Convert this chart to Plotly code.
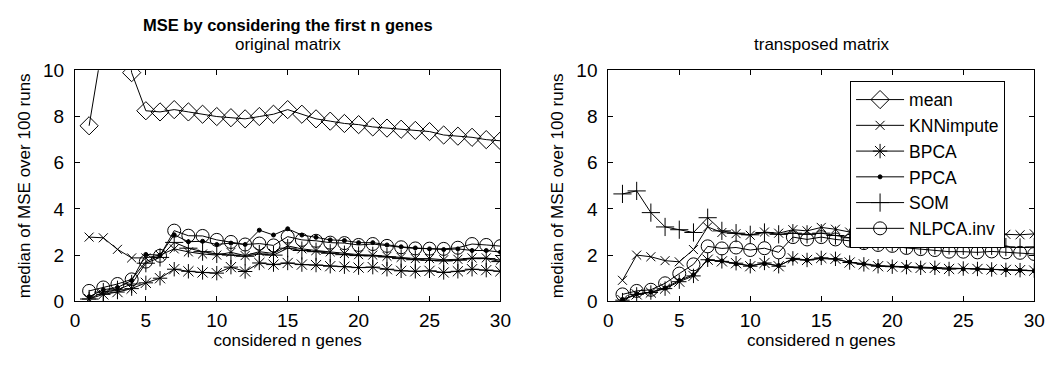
import plotly.graph_objects as go

n = list(range(1, 31))

# ---- left: original matrix ----
L_mean = [7.6, 11.6, 15.0, 9.9, 8.25, 8.2, 8.3, 8.2, 8.1, 8.0, 7.95, 7.9, 8.0, 8.1, 8.3,
          8.1, 7.9, 7.8, 7.7, 7.65, 7.55, 7.5, 7.45, 7.4, 7.35, 7.2, 7.15, 7.1, 7.0, 6.95]
L_knn = [2.78, 2.75, 2.25, 1.88, 1.88, 2.0, 2.27, 2.14, 2.05, 2.0, 2.12, 1.98, 2.15, 2.07, 2.4,
         2.27, 2.2, 2.14, 2.07, 2.02, 2.0, 1.95, 1.9, 1.85, 1.85, 1.8, 1.82, 1.88, 1.88, 1.78]
L_bpca = [0.1, 0.3, 0.4, 0.55, 0.8, 1.0, 1.39, 1.3, 1.25, 1.22, 1.48, 1.29, 1.66, 1.59, 1.66,
          1.59, 1.57, 1.52, 1.5, 1.46, 1.48, 1.39, 1.32, 1.3, 1.32, 1.25, 1.3, 1.39, 1.35, 1.3]
L_ppca = [0.2, 0.5, 0.6, 0.9, 2.03, 2.0, 2.88, 2.58, 2.6, 2.46, 2.52, 2.46, 3.08, 2.87, 3.14,
          2.87, 2.77, 2.66, 2.63, 2.54, 2.54, 2.44, 2.36, 2.31, 2.27, 2.24, 2.27, 2.2, 2.2, 2.13]
L_som = [0.1, 0.4, 0.5, 0.75, 1.65, 1.9, 2.55, 2.3, 2.15, 2.05, 2.0, 1.95, 2.05, 2.0, 2.3,
         2.2, 2.15, 2.08, 2.02, 1.98, 1.97, 1.92, 1.85, 1.8, 1.78, 1.75, 1.78, 1.85, 1.85, 1.72]
L_nlpca = [0.45, 0.6, 0.75, 0.95, 1.72, 1.97, 3.06, 2.84, 2.83, 2.66, 2.57, 2.46, 2.5, 2.42, 2.8,
           2.66, 2.62, 2.54, 2.52, 2.44, 2.48, 2.4, 2.34, 2.29, 2.28, 2.27, 2.32, 2.48, 2.44, 2.39]

# ---- right: transposed matrix ----
R_mean = [12.5, 12.8, 13.0, 12.9, 12.7, 12.6, 12.8, 12.7, 12.6, 12.5, 12.5, 12.4, 12.5, 12.4, 12.5,
          12.4, 12.3, 12.3, 12.2, 12.2, 12.1, 12.1, 12.0, 12.0, 11.9, 11.9, 11.8, 11.8, 11.7, 11.7]
R_knn = [0.91, 2.0, 1.93, 1.76, 1.71, 2.24, 3.22, 2.98, 2.93, 2.86, 3.0, 2.95, 3.1, 3.05, 3.2,
         3.12, 3.0, 2.95, 2.9, 2.92, 2.92, 3.0, 2.9, 2.9, 2.85, 2.85, 2.9, 2.9, 2.88, 2.92]
R_bpca = [0.05, 0.3, 0.38, 0.55, 0.85, 1.1, 1.8, 1.73, 1.65, 1.52, 1.66, 1.52, 1.86, 1.79, 1.88,
          1.84, 1.68, 1.6, 1.52, 1.5, 1.48, 1.45, 1.45, 1.4, 1.42, 1.4, 1.38, 1.36, 1.35, 1.33]
R_ppca = [0.08, 0.32, 0.4, 0.58, 0.9, 1.15, 1.78, 1.75, 1.62, 1.55, 1.63, 1.55, 1.82, 1.78, 1.85,
          1.82, 1.7, 1.62, 1.55, 1.52, 1.5, 1.47, 1.44, 1.42, 1.4, 1.4, 1.37, 1.36, 1.34, 1.32]
R_som = [4.65, 4.78, 3.84, 3.22, 3.1, 2.98, 3.62, 3.05, 2.95, 2.88, 2.98, 2.9, 2.95, 2.9, 2.95,
         2.85, 2.75, 2.65, 2.6, 2.55, 2.45, 2.42, 2.42, 2.42, 2.4, 2.38, 2.4, 2.35, 2.33, 2.35]
R_nlpca = [0.3, 0.45, 0.5, 0.78, 1.2, 1.6, 2.38, 2.29, 2.33, 2.22, 2.3, 2.12, 2.78, 2.68, 2.78,
           2.68, 2.62, 2.52, 2.44, 2.4, 2.31, 2.26, 2.22, 2.15, 2.15, 2.12, 2.16, 2.12, 2.1, 2.05]

names = ["mean", "KNNimpute", "BPCA", "PPCA", "SOM", "NLPCA.inv"]
symbols = ["diamond-open", "x-thin-open", "asterisk-open", "circle", "cross-thin-open", "circle-open"]
sizes = [14, 9, 12, 4, 13, 13]
left_series = [L_mean, L_knn, L_bpca, L_ppca, L_som, L_nlpca]
right_series = [R_mean, R_knn, R_bpca, R_ppca, R_som, R_nlpca]

x_ticks = [0, 5, 10, 15, 20, 25, 30]
y_ticks = [0, 2, 4, 6, 8, 10]

W, H = 1062, 367
fig = go.Figure()

def add(series, xa, ya, show):
    for nm, sym, sz, ys in zip(names, symbols, sizes, series):
        fig.add_trace(go.Scatter(
            x=n, y=ys, name=nm, mode="lines+markers", xaxis=xa, yaxis=ya,
            showlegend=show, cliponaxis=True,
            line=dict(color="black", width=1),
            marker=dict(symbol=sym, size=sz, color="black",
                        line=dict(color="black", width=1)),
        ))

add(left_series, "x", "y", False)
add(right_series, "x2", "y2", True)

font = "Liberation Sans, Arial, Helvetica, sans-serif"
ydom = [1 - 309 / H, 1 - 64 / H]
axcommon = dict(showline=True, linecolor="black", linewidth=1, mirror="ticks",
                ticks="inside", ticklen=5, tickcolor="black", showgrid=False,
                zeroline=False, tickfont=dict(size=19, color="black", family=font))
xt = dict(text="considered n genes", font=dict(size=17), standoff=2)
yt = dict(text="median of MSE over 100 runs", font=dict(size=17), standoff=8)
fig.update_layout(
    width=W, height=H, plot_bgcolor="white", paper_bgcolor="white",
    margin=dict(l=0, r=0, t=0, b=0),
    font=dict(family=font, color="black"),
    xaxis=dict(domain=[71 / W, 503 / W], range=[0, 30], tickvals=x_ticks, anchor="y",
               title=xt, ticklabelstandoff=2, **axcommon),
    yaxis=dict(domain=ydom, range=[0, 10], tickvals=y_ticks, anchor="x",
               title=yt, ticklabelstandoff=6, **axcommon),
    xaxis2=dict(domain=[612.5 / W, 1045 / W], range=[0, 30], tickvals=x_ticks, anchor="y2",
                title=xt, ticklabelstandoff=2, **axcommon),
    yaxis2=dict(domain=ydom, range=[0, 10], tickvals=y_ticks, anchor="x2",
                title=yt, ticklabelstandoff=6, **axcommon),
    legend=dict(x=858 / W, y=1 - 75 / H, xanchor="left", yanchor="top",
                bordercolor="black", borderwidth=1, bgcolor="white",
                font=dict(size=17.5, color="black"), tracegroupgap=0, itemwidth=48),
    annotations=[
        dict(text="<b>MSE by considering the first n genes</b>", x=287 / W, y=1 - 16 / H,
             xref="paper", yref="paper", xanchor="center", yanchor="middle",
             showarrow=False, font=dict(size=16.5)),
        dict(text="original matrix", x=287 / W, y=1 - 37 / H,
             xref="paper", yref="paper", xanchor="center", yanchor="middle",
             showarrow=False, font=dict(size=17)),
        dict(text="transposed matrix", x=829 / W, y=1 - 37 / H,
             xref="paper", yref="paper", xanchor="center", yanchor="middle",
             showarrow=False, font=dict(size=17)),
    ],
)

fig.write_html("out.html", config={"displayModeBar": False},
               post_script="document.body.style.margin='0';")
